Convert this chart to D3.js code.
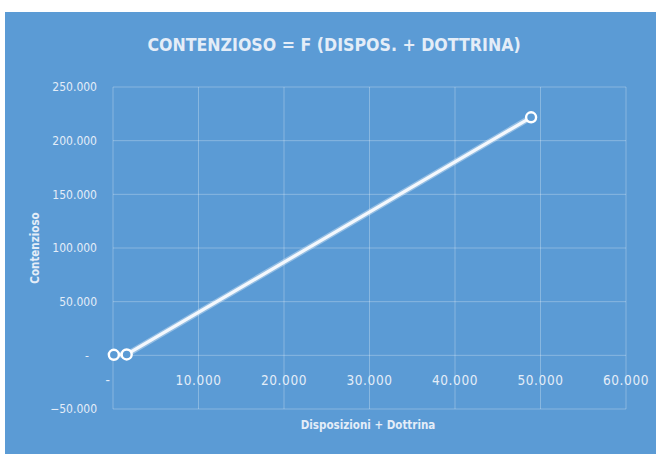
<!DOCTYPE html>
<html>
<head>
<meta charset="utf-8">
<script src="https://cdn.jsdelivr.net/npm/d3@7"></script>
<style>
  html, body { margin: 0; padding: 0; background: #ffffff; }
  svg { display: block; }
  text { font-family: "Liberation Sans Narrow", "DejaVu Sans Condensed", "Open Sans", sans-serif; }
</style>
</head>
<body>
<svg id="chart" width="656" height="454"></svg>
<script>
// Disposizioni + Dottrina (x) against Contenzioso (y)
const dispDottrina = [100, 1600, 48900];
const contenzioso  = [500, 800, 221800];

const xTicks = [0, 10000, 20000, 30000, 40000, 50000, 60000];
const yTicks = [-50000, 0, 50000, 100000, 150000, 200000, 250000];

const titleText = "CONTENZIOSO = F (DISPOS. + DOTTRINA)";
const xTitle = "Disposizioni + Dottrina";
const yTitle = "Contenzioso";

const W = 656, H = 454;
const bg = "#5b9bd5";
const ink = "#e4edf8";
const grid = "rgba(255,255,255,0.28)";

const svg = d3.select("#chart");

// chart area panel
svg.append("rect")
  .attr("x", 5).attr("y", 12)
  .attr("width", W - 5).attr("height", H - 12)
  .attr("fill", bg);

const plot = { left: 113, right: 626, top: 87, bottom: 409 };

const x = d3.scaleLinear().domain([0, 60000]).range([plot.left, plot.right]);
const y = d3.scaleLinear().domain([-50000, 250000]).range([plot.bottom, plot.top]);

// Italian style thousands separator, zero shown as a dash
const fmt = v => v === 0 ? "-" : d3.format(",")(v).replace(/,/g, ".");

// gridlines
const g = svg.append("g");
g.selectAll("line.hx").data(yTicks).join("line")
  .attr("x1", plot.left).attr("x2", plot.right)
  .attr("y1", d => y(d)).attr("y2", d => y(d))
  .attr("stroke", grid).attr("stroke-width", 1);
g.selectAll("line.vx").data(xTicks).join("line")
  .attr("y1", plot.top).attr("y2", plot.bottom)
  .attr("x1", d => x(d)).attr("x2", d => x(d))
  .attr("stroke", grid).attr("stroke-width", 1);

// y tick labels
svg.append("g").selectAll("text").data(yTicks).join("text")
  .attr("x", d => d === 0 ? 89 : 97).attr("y", d => y(d))
  .attr("dy", "0.35em")
  .attr("text-anchor", "end")
  .attr("font-size", 12)
  .attr("fill", ink)
  .text(fmt);

// x tick labels, placed along the zero line
svg.append("g").selectAll("text").data(xTicks).join("text")
  .attr("x", d => d === 0 ? x(d) - 5 : x(d))
  .attr("y", y(0) + 30)
  .attr("text-anchor", "middle")
  .attr("font-size", 13.5)
  .attr("letter-spacing", 0.6)
  .attr("fill", ink)
  .text(fmt);

// title
svg.append("text")
  .attr("x", 334).attr("y", 51)
  .attr("text-anchor", "middle")
  .attr("font-size", 17.6)
  .attr("font-weight", "bold")
  .attr("fill", ink)
  .text(titleText);

// axis titles
svg.append("text")
  .attr("x", 368).attr("y", 429)
  .attr("text-anchor", "middle")
  .attr("font-size", 11.5)
  .attr("font-weight", "bold")
  .attr("fill", ink)
  .text(xTitle);

svg.append("text")
  .attr("transform", `translate(39,248) rotate(-90)`)
  .attr("text-anchor", "middle")
  .attr("font-size", 11.5)
  .attr("font-weight", "bold")
  .attr("fill", ink)
  .text(yTitle);

// series line with markers
const pts = dispDottrina.map((d, i) => [d, contenzioso[i]]);
const line = d3.line().x(d => x(d[0])).y(d => y(d[1]));

// soft halo under the line
svg.append("path")
  .datum(pts)
  .attr("d", line)
  .attr("fill", "none")
  .attr("stroke", "rgba(255,255,255,0.35)")
  .attr("stroke-width", 6)
  .attr("stroke-linecap", "round");

svg.append("path")
  .datum(pts)
  .attr("d", line)
  .attr("fill", "none")
  .attr("stroke", "#f4f8fd")
  .attr("stroke-width", 3.2)
  .attr("stroke-linecap", "round");

svg.append("g").selectAll("circle").data(pts).join("circle")
  .attr("cx", d => x(d[0])).attr("cy", d => y(d[1]))
  .attr("r", 5)
  .attr("fill", bg)
  .attr("stroke", "#ffffff")
  .attr("stroke-width", 2.4);
</script>
</body>
</html>
